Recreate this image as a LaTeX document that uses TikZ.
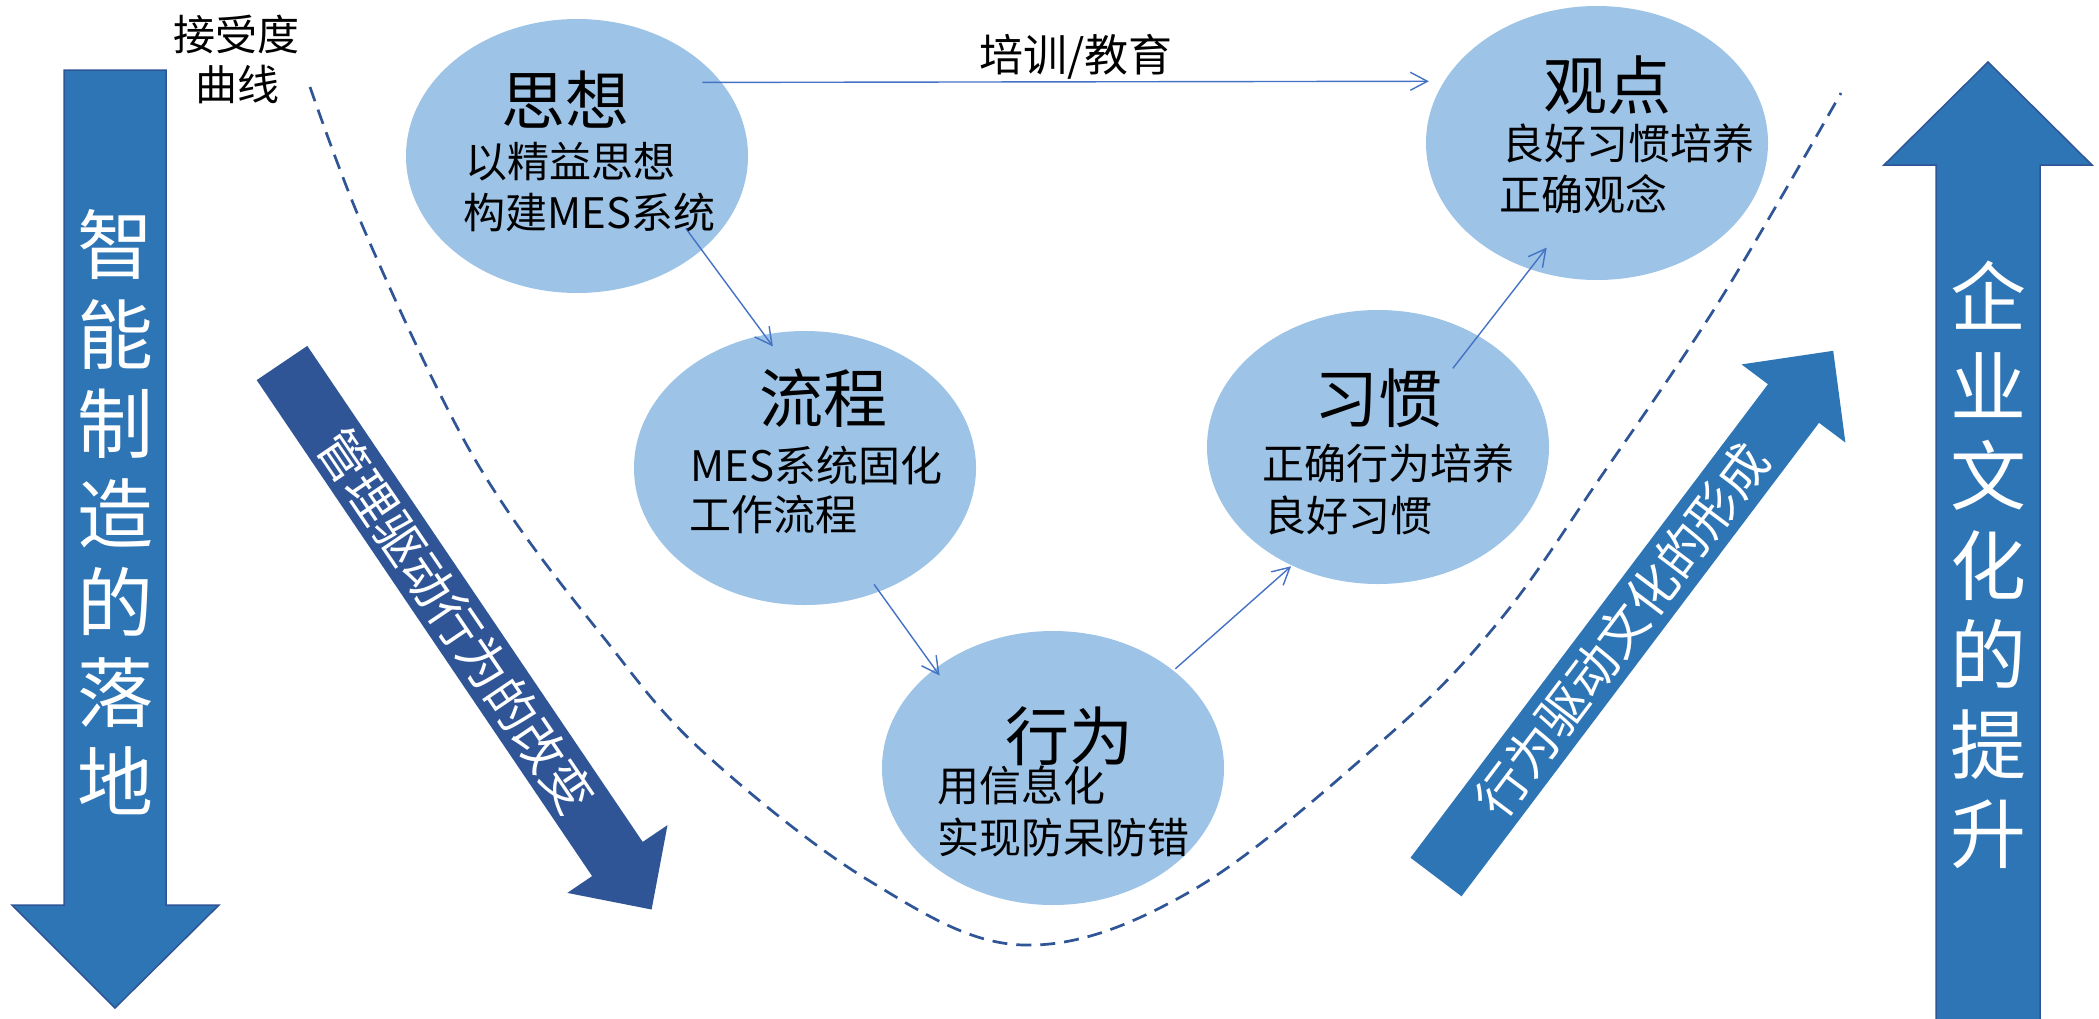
\documentclass[tikz,border=0pt]{standalone}
\usepackage{fontspec}
\newfontfamily\cjk{Noto Sans CJK SC}
\usetikzlibrary{shapes.geometric,arrows.meta}
\definecolor{ellfill}{HTML}{9DC3E6}
\definecolor{arrowblue}{HTML}{2E75B6}
\definecolor{darkblue}{HTML}{2F5597}
\definecolor{linkblue}{HTML}{4472C4}
\begin{document}
\begin{tikzpicture}[x=1pt,y=-1pt,
  bubble/.style={ellipse, fill=ellfill, minimum width=342pt, minimum height=274pt, inner sep=0pt},
  titletext/.style={font=\cjk\fontsize{64}{70}\selectfont, inner sep=0pt},
  subtext/.style={font=\cjk\fontsize{42}{50}\selectfont, inner sep=0pt, anchor=west},
  link/.style={draw=linkblue, line width=1.4pt, -{Straight Barb[length=17pt,width=18pt]}},
  vtext/.style={font=\cjk\fontsize{76}{89.5}\selectfont, text=white, align=center, inner sep=0pt},
  dtext/.style={font=\cjk\fontsize{50}{50}\selectfont, text=white, inner sep=0pt},
  plain/.style={font=\cjk\fontsize{42}{50}\selectfont, inner sep=0pt}
]
\useasboundingbox (0,0) rectangle (2099,1018);
\fill[white] (0,0) rectangle (2099,1018);

% big vertical arrows
\filldraw[fill=arrowblue, draw=darkblue, line width=1.5pt]
  (64,70) -- (166,70) -- (166,905) -- (219,905) -- (115,1008) -- (12,905) -- (64,905) -- cycle;
\node[vtext] (lefttxt) at (115,512.5) {智\\能\\制\\造\\的\\落\\地};
\filldraw[fill=arrowblue, draw=darkblue, line width=1.5pt]
  (1936,1030) -- (1936,165) -- (1884,165) -- (1988,62) -- (2092,165) -- (2040,165) -- (2040,1030) -- cycle;
\node[vtext] (righttxt) at (1988,565) {企\\业\\文\\化\\的\\提\\升};

% diagonal arrows
\fill[darkblue] (256.7,380.1) -- (307.3,345.9) -- (642.7,841.9) -- (667.5,825.1)
  -- (651.6,909.5) -- (567.3,892.9) -- (592.1,876.1) -- cycle;
\node[dtext, rotate=-55.9] (mgmt) at (456.7,621.3) {管理驱动行为的改变};
\fill[arrowblue] (1410.5,857.7) -- (1461.5,896.3) -- (1819,422.8) -- (1845.4,442.6)
  -- (1833.2,350.8) -- (1741.6,364.4) -- (1768,384.2) -- cycle;
\node[dtext, rotate=53] (cult) at (1622.3,630) {行为驱动文化的形成};

% acceptance curve
\draw[darkblue, line width=2.7pt, dash pattern=on 15pt off 9pt]
  plot[smooth, tension=0.6] coordinates {(310,87) (360,220) (442,398) (507,510) (600,633)
  (700,749) (868,880) (1023,945) (1193,890) (1390,734) (1500,620) (1600,478) (1720,300) (1841,93)};
\node[plain] (acc1) at (236,34) {接受度};
\node[plain] (acc2) at (237,84) {曲线};

% bubbles
\node[bubble] (sx) at (577,156) {};
\node[bubble] (lc) at (805,468) {};
\node[bubble] (xw) at (1053,768) {};
\node[bubble] (xg) at (1378,447) {};
\node[bubble] (gd) at (1597,143) {};

% connectors
\draw[link, shorten <=-19pt, shorten >=15.3pt] (sx.27.2) -- (gd.158.7);
\node[plain, font=\cjk\fontsize{44}{50}\selectfont] (train) at (1076,57) {培训/教育};
\draw[link, shorten <=-26.7pt, shorten >=-14.5pt] (sx.-37.4) -- (lc.107.8);
\draw[link, shorten <=-8.9pt, shorten >=-8.3pt] (lc.-59.8) -- (xw.140.8);
\draw[link, shorten <=2.6pt, shorten >=1.1pt] (xw.39.6) -- (xg.234.8);
\draw[link, shorten <=-41.3pt, shorten >=-27.4pt] (xg.48.1) -- (gd.242.4);

% texts
\node[titletext] (sxt) at (565,100) {思想};
\node[subtext] (sx1) at (465,162) {以精益思想};
\node[subtext] (sx2) at (463,212) {构建MES系统};

\node[titletext] (lct) at (823,398) {流程};
\node[subtext] (lc1) at (690,465) {MES系统固化};
\node[subtext] (lc2) at (689,515) {工作流程};

\node[titletext] (xwt) at (1069,736) {行为};
\node[subtext] (xw1) at (937,785) {用信息化};
\node[subtext] (xw2) at (937,837) {实现防呆防错};

\node[titletext] (xgt) at (1378,398) {习惯};
\node[subtext] (xg1) at (1262,463) {正确行为培养};
\node[subtext] (xg2) at (1264,515) {良好习惯};

\node[titletext] (gdt) at (1607,85) {观点};
\node[subtext] (gd1) at (1502,143) {良好习惯培养};
\node[subtext] (gd2) at (1499,194) {正确观念};
\end{tikzpicture}
\end{document}
